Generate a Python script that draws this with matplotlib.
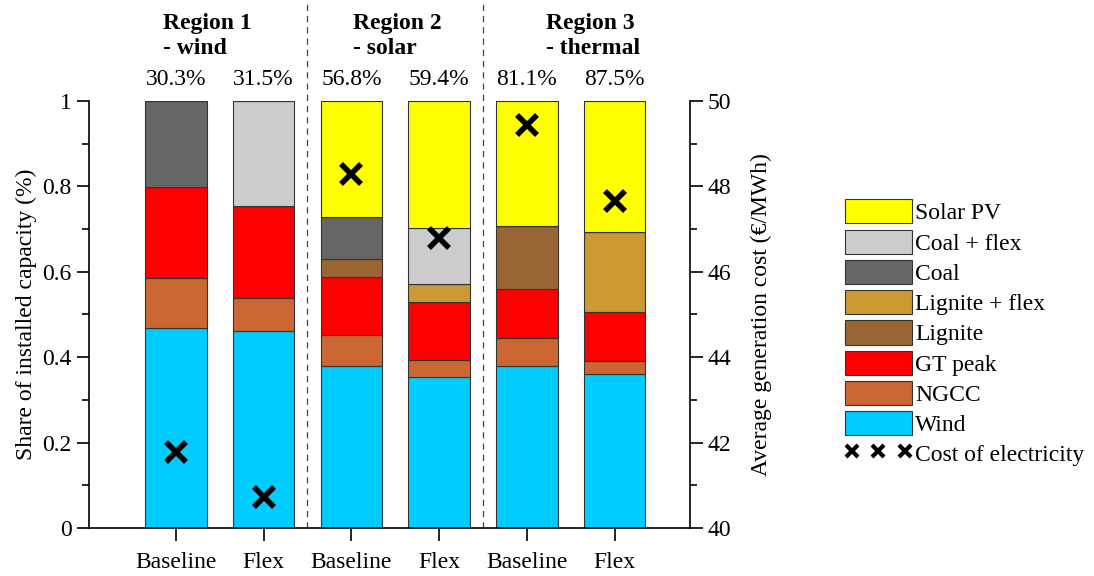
import matplotlib
matplotlib.use("Agg")
import matplotlib.pyplot as plt
from matplotlib.lines import Line2D
from matplotlib.patches import Patch
from matplotlib.legend_handler import HandlerLine2D
import numpy as np

plt.rcParams["font.family"] = ["Liberation Serif", "DejaVu Serif"]
plt.rcParams["font.size"] = 17

# bars: R1 baseline, R1 flex, R2 baseline, R2 flex, R3 baseline, R3 flex
scenarios = ["Baseline", "Flex", "Baseline", "Flex", "Baseline", "Flex"]
shares_top = ["30.3%", "31.5%", "56.8%", "59.4%", "81.1%", "87.5%"]
regions = ["Region 1\n- wind", "Region 2\n- solar", "Region 3\n- thermal"]

# stacked shares of installed capacity, bottom to top
wind = [0.468, 0.461, 0.379, 0.354, 0.379, 0.361]
ngcc = [0.117, 0.078, 0.073, 0.039, 0.066, 0.030]
gt_peak = [0.213, 0.215, 0.136, 0.136, 0.115, 0.115]
lignite = [0.0, 0.0, 0.042, 0.0, 0.147, 0.0]
lignite_flex = [0.0, 0.0, 0.0, 0.042, 0.0, 0.187]
coal = [0.202, 0.0, 0.098, 0.0, 0.0, 0.0]
coal_flex = [0.0, 0.246, 0.0, 0.132, 0.0, 0.0]
solar = [0.0, 0.0, 0.272, 0.297, 0.293, 0.307]

# average generation cost (EUR/MWh)
cost = [41.78, 40.73, 48.29, 46.79, 49.44, 47.66]

techs = [
    ("Wind", wind, "#00CCFF"),
    ("NGCC", ngcc, "#CC6633"),
    ("GT peak", gt_peak, "#FF0000"),
    ("Lignite", lignite, "#996633"),
    ("Lignite + flex", lignite_flex, "#CC9933"),
    ("Coal", coal, "#666666"),
    ("Coal + flex", coal_flex, "#CCCCCC"),
    ("Solar PV", solar, "#FFFF00"),
]

fig = plt.figure(figsize=(10.94, 5.76), dpi=100)
ax = fig.add_axes([0.0814, 0.0833, 0.5493, 0.7414])
x = np.arange(len(scenarios))

bottom = np.zeros(len(scenarios))
for name, vals, col in techs:
    vals = np.array(vals)
    ax.bar(x, vals, 0.7, bottom=bottom, color=col, edgecolor="#333333",
           linewidth=0.8, zorder=2)
    bottom += vals

ax.set_xlim(-0.99, 5.86)
ax.set_ylim(0, 1)
ax.set_xticks(x)
ax.set_xticklabels(scenarios)
ax.set_yticks([0, 0.2, 0.4, 0.6, 0.8, 1.0])
ax.set_yticklabels(["0", "0.2", "0.4", "0.6", "0.8", "1"])
ax.set_yticks(np.arange(0.1, 1.0, 0.2), minor=True)
ax.tick_params(axis="both", direction="out", length=9, width=1.2)
ax.tick_params(axis="y", which="minor", direction="out", length=5, width=1.2)
ax.tick_params(axis="x", pad=8)
ax.spines["top"].set_visible(False)
ax.spines["right"].set_visible(False)
for s in ["left", "bottom"]:
    ax.spines[s].set_linewidth(1.2)
ax.set_ylabel("Share of installed capacity (%)", labelpad=4)

ax2 = ax.twinx()
ax2.set_ylim(40, 50)
ax2.set_yticks([40, 42, 44, 46, 48, 50])
ax2.set_yticks(np.arange(41, 50, 2), minor=True)
ax2.tick_params(axis="y", direction="out", length=9, width=1.2)
ax2.tick_params(axis="y", which="minor", direction="out", length=5, width=1.2)
for s in ["top", "left", "bottom"]:
    ax2.spines[s].set_visible(False)
ax2.spines["right"].set_linewidth(1.2)
ax2.set_ylabel("Average generation cost (€/MWh)", labelpad=14)
ax2.plot(x, cost, linestyle="none", marker="x", markersize=14,
         markeredgewidth=4, color="black", zorder=5)

# region separators
for xs in [1.5, 3.5]:
    ax.plot([xs, xs], [0, 1.235], transform=ax.get_xaxis_transform(),
            color="#444444", linestyle=(0, (5, 4)), linewidth=0.9,
            clip_on=False, zorder=1)

for xi, lab in zip(x, shares_top):
    ax.text(xi, 1.05, lab, ha="center", va="center",
            transform=ax.get_xaxis_transform())

for xr, lab in zip([0.36, 2.52, 4.76], regions):
    ax.text(xr, 1.152, lab, ha="center", va="center", multialignment="left",
            fontweight="bold", linespacing=1.3,
            transform=ax.get_xaxis_transform())

handles = [Patch(facecolor=c, edgecolor="#333333", linewidth=0.8, label=n)
           for n, v, c in reversed(techs)]
cost_handle = Line2D([], [], linestyle="none", marker="x", markersize=9,
                     markeredgewidth=3, color="black", label="Cost of electricity")
handles.append(cost_handle)
fig.legend(handles=handles, loc="upper left", bbox_to_anchor=(0.772, 0.654),
           frameon=False, handlelength=2.85, handleheight=1.2,
           labelspacing=0.22, handletextpad=0.15, borderpad=0,
           borderaxespad=0,
           handler_map={cost_handle: HandlerLine2D(numpoints=3)})

fig.savefig("out.png", dpi=100)
